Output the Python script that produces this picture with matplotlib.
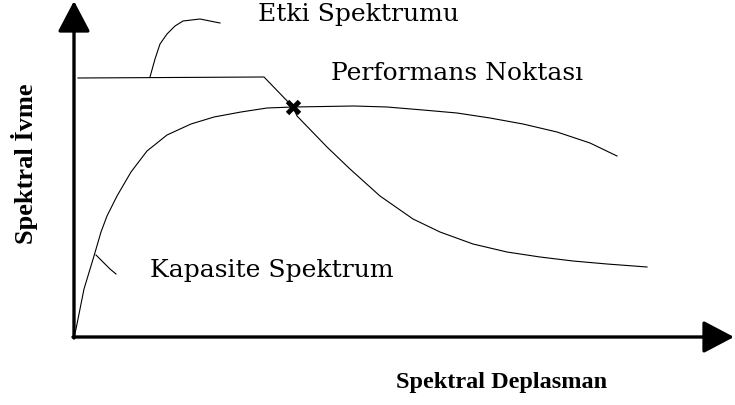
import matplotlib
matplotlib.use("Agg")
import matplotlib.pyplot as plt

# ---- data (spectral displacement, spectral acceleration; arbitrary units) ----
demand_d = [0.04, 1.90, 2.19, 2.23, 2.53, 2.76, 3.06, 3.39, 3.66, 3.99,
            4.33, 4.66, 4.99, 5.33, 5.73]
demand_a = [2.59, 2.60, 2.30, 2.21, 1.90, 1.68, 1.41, 1.18, 1.05, 0.93,
            0.85, 0.80, 0.76, 0.73, 0.70]

capacity_d = [0.00, 0.02, 0.10, 0.20, 0.27, 0.33, 0.43, 0.57, 0.73, 0.93,
              1.17, 1.40, 1.67, 1.93, 2.19, 2.80, 3.13, 3.49, 3.83, 4.16,
              4.49, 4.83, 5.16, 5.43]
capacity_a = [0.00, 0.08, 0.48, 0.81, 1.05, 1.21, 1.41, 1.65, 1.86, 2.02,
              2.13, 2.20, 2.25, 2.29, 2.30, 2.31, 2.30, 2.27, 2.24, 2.19,
              2.13, 2.05, 1.94, 1.81]

perf_point = (2.19, 2.30)

# leader lines for the labels
etki_lead_d = [0.76, 0.81, 0.86, 0.93, 1.01, 1.09, 1.26, 1.36, 1.46]
etki_lead_a = [2.60, 2.78, 2.93, 3.03, 3.11, 3.16, 3.18, 3.16, 3.14]
kap_lead_d = [0.22, 0.27, 0.36, 0.42]
kap_lead_a = [0.82, 0.77, 0.68, 0.63]

W, H = 735, 406
fig = plt.figure(figsize=(W / 100, H / 100), dpi=100)
ax = fig.add_axes([74 / W, 68 / H, (W - 74) / W, 338 / H])
ax.set_xlim(0, 6.61)
ax.set_ylim(0, 3.38)
ax.axis("off")

lw = 0.8
ax.plot(demand_d, demand_a, color="black", lw=lw, clip_on=False)
ax.plot(capacity_d, capacity_a, color="black", lw=lw, clip_on=False)
ax.plot(etki_lead_d, etki_lead_a, color="black", lw=lw, clip_on=False)
ax.plot(kap_lead_d, kap_lead_a, color="black", lw=lw, clip_on=False)
ax.plot(*perf_point, marker="x", color="black", markersize=8, mew=3.5)

# axes with arrow heads
arrow = dict(arrowstyle="-|>,head_length=0.95,head_width=0.5",
             mutation_scale=20, color="black", lw=2.4, shrinkA=0, shrinkB=0)
ax.annotate("", xy=(6.60, 0), xytext=(-0.01, 0), arrowprops=arrow,
            annotation_clip=False)
ax.annotate("", xy=(0, 3.36), xytext=(0, -0.01), arrowprops=arrow,
            annotation_clip=False)

serif = "DejaVu Serif"
ax.text(1.84, 3.23, "Etki Spektrumu", family=serif, fontsize=18,
        ha="left", va="center")
ax.text(2.57, 2.64, "Performans Noktası", family=serif, fontsize=18,
        ha="left", va="center")
ax.text(0.76, 0.67, "Kapasite Spektrum", family=serif, fontsize=18,
        ha="left", va="center")

ax.text(4.28, -0.45, "Spektral Deplasman", family="Liberation Serif",
        fontweight="bold", fontsize=17.5, ha="center", va="center")
ax.text(-0.49, 1.74, "Spektral İvme", family="Liberation Serif",
        fontweight="bold", fontsize=19, ha="center", va="center",
        rotation=90)

fig.savefig("out.png", dpi=100)
